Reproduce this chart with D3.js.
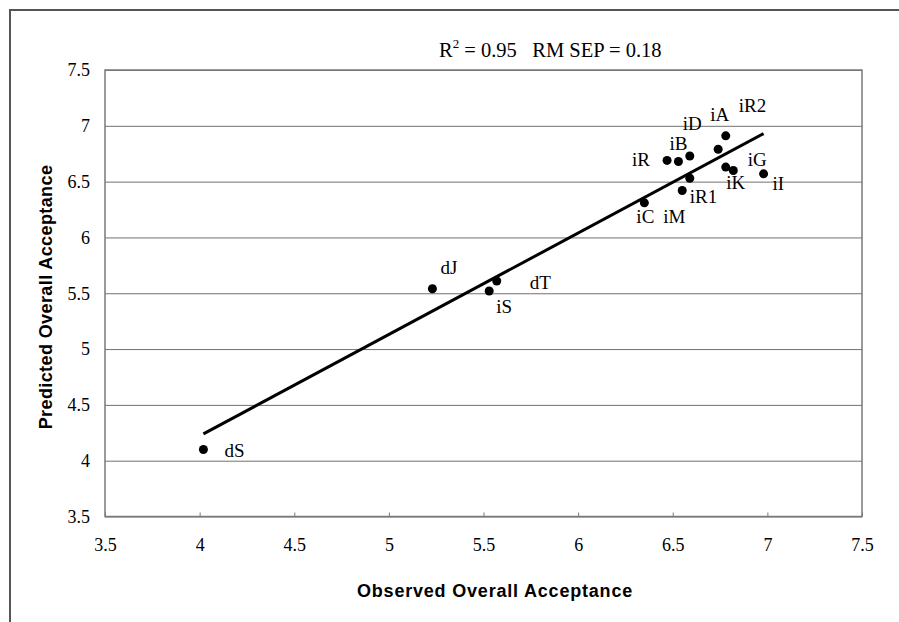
<!DOCTYPE html>
<html>
<head>
<meta charset="utf-8">
<script src="https://cdn.jsdelivr.net/npm/d3@7/dist/d3.min.js"></script>
<style>
  body { margin: 0; background: #fff; }
</style>
</head>
<body>
<div id="chart"></div>
<script>
// sample names and values
var names = ["dS", "dJ", "iS", "dT", "iC", "iM", "iR1", "iR", "iB", "iD", "iA", "iR2", "iG", "iK", "iI"];
var observed = [4.02, 5.23, 5.53, 5.57, 6.35, 6.55, 6.59, 6.47, 6.53, 6.59, 6.74, 6.78, 6.78, 6.82, 6.98];
var predicted = [4.10, 5.54, 5.52, 5.61, 6.31, 6.42, 6.53, 6.69, 6.68, 6.73, 6.79, 6.91, 6.63, 6.60, 6.57];
// label offsets in px (dx, dy) from each point
var labelDx = [21, 8, 7, 33, -8, -19, 0, -35, -9, -7, -8, 13, 22, -7, 9];
var labelDy = [7, -15, 22, 8, 20, 32, 25, 6, -12, -26, -28, -24, -1, 19, 16];

// fitted line ends
var fitX = [4.02, 6.98];
var fitY = [4.24, 6.93];

var xTicks = [3.5, 4, 4.5, 5, 5.5, 6, 6.5, 7, 7.5];
var yTicks = [3.5, 4, 4.5, 5, 5.5, 6, 6.5, 7, 7.5];

var W = 899, H = 622;
var plotL = 105, plotT = 70, plotR = 862, plotB = 516.5;
var serif = "'Liberation Serif', 'Times New Roman', serif";
var sans = "'Liberation Sans', Arial, sans-serif";

var svg = d3.select("#chart").append("svg")
    .attr("width", W)
    .attr("height", H);

// outer border (top and left only visible)
svg.append("path")
    .attr("d", "M10," + H + "V10H" + W)
    .attr("fill", "none")
    .attr("stroke", "#555")
    .attr("stroke-width", 2);

var x = d3.scaleLinear().domain([3.5, 7.5]).range([plotL, plotR]);
var y = d3.scaleLinear().domain([3.5, 7.5]).range([plotB, plotT]);

// gridlines
svg.append("g")
    .attr("transform", "translate(" + plotL + ",0)")
    .call(d3.axisLeft(y).tickValues(yTicks).tickSize(-(plotR - plotL)).tickFormat(""))
    .call(g => g.select(".domain").remove())
    .call(g => g.selectAll("line").attr("stroke", "#707070").attr("stroke-width", 1));

// frame
svg.append("rect")
    .attr("x", plotL).attr("y", plotT)
    .attr("width", plotR - plotL).attr("height", plotB - plotT)
    .attr("fill", "none")
    .attr("stroke", "#7a7a7a")
    .attr("stroke-width", 1.5);

// x axis
var xAxis = svg.append("g")
    .attr("transform", "translate(0," + plotB + ")")
    .call(d3.axisBottom(x).tickValues(xTicks).tickSizeInner(-4).tickSizeOuter(0).tickPadding(22).tickFormat(d3.format("")));
xAxis.select(".domain").remove();
xAxis.selectAll("line").attr("stroke", "#7a7a7a");
xAxis.selectAll("text")
    .attr("font-family", serif).attr("font-size", 18).attr("fill", "#000");

// y axis labels
var yAxis = svg.append("g")
    .attr("transform", "translate(" + plotL + ",0)")
    .call(d3.axisLeft(y).tickValues(yTicks).tickSize(0).tickPadding(15).tickFormat(d3.format("")));
yAxis.select(".domain").remove();
yAxis.selectAll("text")
    .attr("font-family", serif).attr("font-size", 18).attr("fill", "#000");

// fitted line
svg.append("line")
    .attr("x1", x(fitX[0])).attr("y1", y(fitY[0]))
    .attr("x2", x(fitX[1])).attr("y2", y(fitY[1]))
    .attr("stroke", "#000")
    .attr("stroke-width", 3);

// points
svg.selectAll("circle.pt")
    .data(names)
    .enter().append("circle")
    .attr("class", "pt")
    .attr("cx", (d, i) => x(observed[i]))
    .attr("cy", (d, i) => y(predicted[i]))
    .attr("r", 4.5)
    .attr("fill", "#000");

// point labels
svg.selectAll("text.lbl")
    .data(names)
    .enter().append("text")
    .attr("class", "lbl")
    .attr("x", (d, i) => x(observed[i]) + labelDx[i])
    .attr("y", (d, i) => y(predicted[i]) + labelDy[i])
    .attr("font-family", serif)
    .attr("font-size", 19)
    .attr("fill", "#000")
    .text(d => d);

// stats title
var t = svg.append("text")
    .attr("x", 439).attr("y", 57)
    .attr("font-family", serif)
    .attr("font-size", 20.5)
    .attr("fill", "#000");
t.append("tspan").text("R");
t.append("tspan").attr("font-size", 13).attr("dy", -9).text("2");
t.append("tspan").attr("dy", 9).attr("xml:space", "preserve").text(" = 0.95   RM SEP = 0.18");

// axis titles
svg.append("text")
    .attr("x", 495).attr("y", 597)
    .attr("text-anchor", "middle")
    .attr("font-family", sans)
    .attr("font-weight", "bold")
    .attr("font-size", 18)
    .attr("letter-spacing", 0.8)
    .text("Observed Overall Acceptance");

svg.append("text")
    .attr("transform", "translate(52,297) rotate(-90)")
    .attr("text-anchor", "middle")
    .attr("font-family", sans)
    .attr("font-weight", "bold")
    .attr("font-size", 18)
    .attr("letter-spacing", 0.4)
    .text("Predicted Overall Acceptance");
</script>
</body>
</html>
